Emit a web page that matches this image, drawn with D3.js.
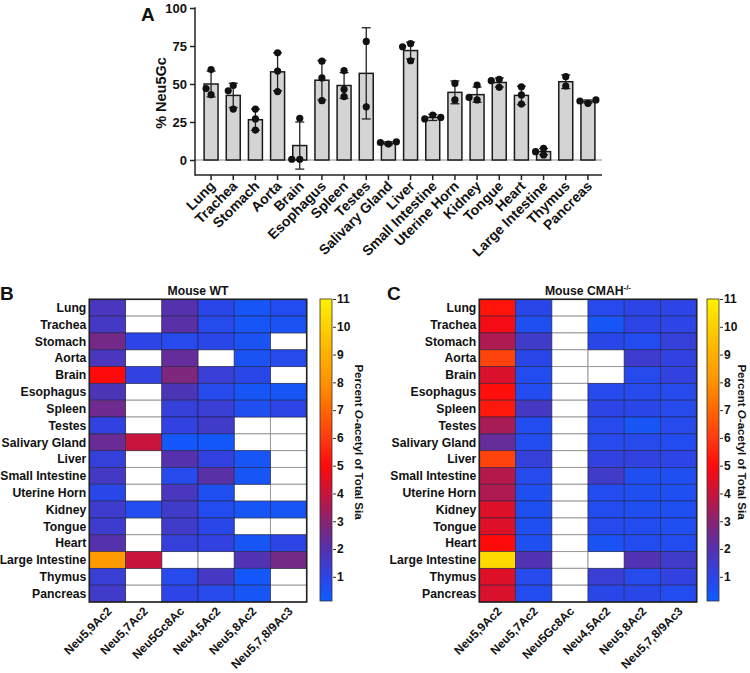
<!DOCTYPE html>
<html><head><meta charset="utf-8">
<script src="https://cdn.jsdelivr.net/npm/d3@7"></script>
<style>body{margin:0;background:#fff}svg{display:block}text{font-family:"Liberation Sans",Arial,Helvetica,sans-serif;font-weight:bold;fill:#111}</style>
</head><body>
<svg id="c" width="750" height="673"></svg>
<script>
// ---------------- DATA ----------------
const tissues = ["Lung","Trachea","Stomach","Aorta","Brain","Esophagus","Spleen","Testes","Salivary Gland","Liver","Small Intestine","Uterine Horn","Kidney","Tongue","Heart","Large Intestine","Thymus","Pancreas"];
const gcMean = [50, 42.5, 26.5, 58, 9.5, 52.5, 49, 57, 11, 72, 28, 44.5, 43, 51, 42.5, 5.5, 51.5, 38.5];
const gcSD   = [8.5, 8, 7, 12.5, 15.5, 13, 8.5, 30, 1, 5.5, 2, 7.5, 5, 3, 6, 2, 4.5, 1];
const gcPoints = [
  [59.5, 43, 47],
  [49, 45.5, 33.5],
  [33.5, 27, 19.7],
  [70.5, 58.5, 45],
  [27.4, 0.5, 0.5],
  [65, 54, 39],
  [58.8, 46.5, 41.7],
  [78, 35],
  [10.5, 11.5, 12],
  [76.5, 74.5, 65.3],
  [29.6, 27, 28],
  [50.4, 39.5],
  [49.3, 39.5, 41.2],
  [53.1, 52.2, 47.8],
  [48.2, 42.8, 36.8],
  [7.7, 5.5, 3.3],
  [54.8, 48.7],
  [37.3, 38.8, 39.5]
];
const yTicksA = [0, 25, 50, 75, 100];

const acetylTypes = ["Neu5,9Ac2","Neu5,7Ac2","Neu5Gc8Ac","Neu4,5Ac2","Neu5,8Ac2","Neu5,7,8/9Ac3"];
// null = not detected (white cell)
const wtValues = [
  [1.7, null, 2.0, 0.9, 0.4, 0.7],
  [1.6, null, 2.1, 0.8, 0.4, 0.5],
  [2.6, 1.0, 0.8, 0.9, 0.5, null],
  [1.7, null, 2.3, null, 0.5, 0.8],
  [5.0, 1.1, 2.8, 1.3, 0.9, null],
  [1.8, null, 1.8, 0.8, 0.4, 0.4],
  [2.5, null, 1.2, 1.3, 0.6, 1.0],
  [1.1, null, 1.1, 1.5, null, null],
  [2.4, 4.0, 0.3, 0.3, null, null],
  [1.2, null, 2.0, 1.1, 0.4, null],
  [1.6, null, 0.8, 2.1, 0.4, null],
  [0.9, null, 1.7, 0.6, null, null],
  [1.4, 0.7, 1.5, 0.7, 0.4, 0.4],
  [1.4, null, 1.5, 0.9, null, null],
  [2.0, null, 1.2, 1.1, 0.4, 1.0],
  [8.3, 4.0, null, null, 1.9, 2.6],
  [1.3, null, 0.8, 1.6, 0.3, null],
  [1.5, null, 1.0, 0.8, 0.4, null]
];
const cmahValues = [
  [5.2, 0.9, null, 0.8, 1.0, 1.0],
  [4.8, 0.6, null, 0.4, 1.0, 1.0],
  [3.6, 1.5, null, 0.9, 0.7, 1.2],
  [6.2, 0.9, null, null, 1.4, 1.1],
  [4.3, 0.7, null, null, 0.8, 1.1],
  [5.1, 0.7, null, 0.8, 0.8, 0.8],
  [5.3, 1.6, null, 1.0, 0.9, 0.8],
  [3.5, 0.7, null, 0.8, 0.4, 0.8],
  [2.3, 0.7, null, 0.8, 0.8, 0.7],
  [6.2, 1.2, null, 1.1, 1.1, 1.0],
  [3.7, 0.8, null, 1.5, 0.6, 0.6],
  [3.6, 0.6, null, 0.7, 0.6, 0.6],
  [4.4, 0.6, null, 0.7, 0.6, 0.6],
  [4.4, 0.6, null, 0.8, 0.7, 0.6],
  [5.0, 0.6, null, 0.5, 0.7, 0.7],
  [10.3, 1.9, null, null, 1.9, 1.5],
  [4.4, 0.8, null, 1.3, 0.8, 1.1],
  [4.3, 0.7, null, 0.9, 0.9, 0.7]
];
const cbarTicks = [1,2,3,4,5,6,7,8,9,10,11];
const cmapStops  = [0.13, 1, 2, 3, 4, 5, 6, 7, 8, 9, 10, 11];
const cmapColors = ["#0e5cff","#2d44e6","#5531ad","#882470","#c8143c","#ff0a0a","#ff3a10","#ff6600","#ff9200","#ffb000","#ffd000","#fff200"];

// ---------------- DRAW ----------------
const svg = d3.select("#c");

// ===== Panel A =====
const gA = svg.append("g");
const xA = d3.scaleBand().domain(tissues).range([200, 599]).paddingInner(0.37).paddingOuter(0.185);
const yA = d3.scaleLinear().domain([0, 100]).range([160, 8]);

gA.append("line").attr("x1", 195).attr("x2", 602).attr("y1", yA(0)).attr("y2", yA(0))
  .attr("stroke", "#8a8a8a").attr("stroke-width", 1.2);

gA.selectAll("rect.bar").data(tissues).join("rect").attr("class","bar")
  .attr("x", d => xA(d)).attr("width", xA.bandwidth())
  .attr("y", (d,i) => yA(gcMean[i])).attr("height", (d,i) => yA(0) - yA(gcMean[i]))
  .attr("fill", "#d4d4d4").attr("stroke", "#1a1a1a").attr("stroke-width", 1.5);

const eb = gA.selectAll("g.eb").data(tissues).join("g").attr("class","eb");
eb.append("line").attr("x1", d => xA(d)+xA.bandwidth()/2).attr("x2", d => xA(d)+xA.bandwidth()/2)
  .attr("y1", (d,i) => yA(gcMean[i]+gcSD[i])).attr("y2", (d,i) => yA(gcMean[i]-gcSD[i]))
  .attr("stroke", "#222").attr("stroke-width", 1.3);
[1,-1].forEach(s => {
  eb.append("line").attr("x1", d => xA(d)+xA.bandwidth()/2-4.5).attr("x2", d => xA(d)+xA.bandwidth()/2+4.5)
    .attr("y1", (d,i) => yA(gcMean[i]+s*gcSD[i])).attr("y2", (d,i) => yA(gcMean[i]+s*gcSD[i]))
    .attr("stroke", "#222").attr("stroke-width", 1.3);
});

tissues.forEach((t, i) => {
  const cx = xA(t) + xA.bandwidth()/2;
  const placed = [];
  gcPoints[i].forEach(v => {
    const py = yA(v);
    let px = cx;
    for (const off of [0, -5, 5, -8, 8]) {
      const ok = placed.every(p => Math.hypot(p[0]-(cx+off), p[1]-py) >= 6.5);
      if (ok) { px = cx + off; break; }
    }
    placed.push([px, py]);
    gA.append("circle").attr("cx", px).attr("cy", py).attr("r", 3.6).attr("fill", "#111");
  });
});

const yAxisA = d3.axisLeft(yA).tickValues(yTicksA).tickSize(5).tickPadding(3);
const gyA = gA.append("g").attr("transform", "translate(195,0)").call(yAxisA);
gyA.select(".domain").remove();
gyA.selectAll(".tick line").attr("stroke", "#222").attr("stroke-width", 1.5);
gyA.selectAll(".tick text").style("font-size", "13px").attr("fill", "#111");
gA.append("line").attr("x1", 195).attr("x2", 195).attr("y1", yA(100)-0.75).attr("y2", 175.75)
  .attr("stroke", "#222").attr("stroke-width", 1.5);

const xAxisA = d3.axisBottom(xA).tickSize(5).tickSizeOuter(0);
const gxA = gA.append("g").attr("transform", "translate(0,175)").call(xAxisA);
gxA.select(".domain").remove();
gxA.selectAll(".tick line").attr("stroke", "#222").attr("stroke-width", 1.5);
gxA.selectAll(".tick text").style("font-size", "14px").attr("fill", "#111")
  .attr("text-anchor", "end").attr("dy", null).attr("y", 0)
  .attr("transform", "translate(5,12) rotate(-45)");
gA.append("line").attr("x1", 195).attr("x2", 602).attr("y1", 175).attr("y2", 175)
  .attr("stroke", "#222").attr("stroke-width", 1.5);

gA.append("text").attr("transform", "translate(166,93) rotate(-90)").attr("text-anchor", "middle")
  .style("font-size", "14.5px").text("% Neu5Gc");
gA.append("text").attr("x", 141).attr("y", 21).style("font-size", "19px").text("A");

// ===== Heatmaps =====
const color = d3.scaleLinear().domain(cmapStops).range(cmapColors).interpolate(d3.interpolateRgb).clamp(true);
const defs = svg.append("defs");
const grad = defs.append("linearGradient").attr("id", "cbgrad").attr("x1", 0).attr("x2", 0).attr("y1", 1).attr("y2", 0);
const cMin = cmapStops[0], cMax = cmapStops[cmapStops.length-1];
d3.range(0, 1.0001, 0.02).forEach(f => {
  grad.append("stop").attr("offset", f).attr("stop-color", color(cMin + f*(cMax-cMin)));
});

function heatmap(opts) {
  const g = svg.append("g");
  const x = d3.scaleBand().domain(acetylTypes).range([opts.x0, opts.x1]);
  const y = d3.scaleBand().domain(tissues).range([299.3, 602]);
  const cells = [];
  opts.values.forEach((row, r) => row.forEach((v, c) => cells.push({r, c, v})));
  g.selectAll("rect.w").data(cells.filter(d => d.v === null)).join("rect").attr("class","w")
    .attr("x", d => x(acetylTypes[d.c])).attr("y", d => y(tissues[d.r]))
    .attr("width", x.bandwidth()).attr("height", y.bandwidth())
    .attr("fill", "#fff").attr("stroke", "#9a9a9a").attr("stroke-width", 1);
  g.selectAll("rect.v").data(cells.filter(d => d.v !== null)).join("rect").attr("class","v")
    .attr("x", d => x(acetylTypes[d.c])).attr("y", d => y(tissues[d.r]))
    .attr("width", x.bandwidth()).attr("height", y.bandwidth())
    .attr("fill", d => color(d.v)).attr("stroke", "#1b1b3a").attr("stroke-opacity", 0.65).attr("stroke-width", 0.8);
  g.append("rect").attr("x", opts.x0).attr("y", 299.3).attr("width", opts.x1-opts.x0).attr("height", 602-299.3)
    .attr("fill", "none").attr("stroke", "#222").attr("stroke-width", 1.6);
  g.selectAll("text.row").data(tissues).join("text").attr("class","row")
    .attr("x", opts.x0 - 3).attr("y", d => y(d) + y.bandwidth()/2).attr("dy", "0.35em")
    .attr("text-anchor", "end").style("font-size", "12.2px").text(d => d);
  g.selectAll("text.col").data(acetylTypes).join("text").attr("class","col")
    .attr("transform", d => `translate(${x(d)+x.bandwidth()/2+5},${612}) rotate(-45)`)
    .attr("text-anchor", "end").style("font-size", "12px").text(d => d);
  const tt = g.append("text").attr("x", (opts.x0+opts.x1)/2).attr("y", 295).attr("text-anchor", "middle").style("font-size", "12.2px");
  tt.append("tspan").text(opts.title);
  if (opts.sup) tt.append("tspan").style("font-size", "8px").attr("dy", -5).text(opts.sup);
  g.append("text").attr("x", opts.letterX).attr("y", 300).style("font-size", "19px").text(opts.letter);
  const cb = d3.scaleLinear().domain([cMin, cMax]).range([601, 299]);
  g.append("rect").attr("x", opts.cbX).attr("y", 299).attr("width", 12).attr("height", 302)
    .attr("fill", "url(#cbgrad)").attr("stroke", "#333").attr("stroke-width", 0.8);
  const cAxis = d3.axisRight(cb).tickValues(cbarTicks).tickSize(3).tickPadding(1).tickFormat(d3.format("d"));
  const ga = g.append("g").attr("transform", `translate(${opts.cbX+13},0)`).call(cAxis);
  ga.select(".domain").remove();
  ga.selectAll(".tick line").attr("stroke", "#333").attr("stroke-width", 1);
  ga.selectAll(".tick text").style("font-size", "12px").attr("fill", "#111");
  const ct = g.append("text").attr("transform", `translate(${opts.cbX+opts.titleOff},442) rotate(90)`).attr("text-anchor", "middle").style("font-size", "11.5px");
  ct.append("tspan").text("Percent ");
  ct.append("tspan").attr("font-style", "italic").text("O");
  ct.append("tspan").text("-acetyl of Total Sia");
}

heatmap({values: wtValues, x0: 89.3, x1: 306.7, title: "Mouse WT", letter: "B", letterX: 0, cbX: 320, titleOff: 35});
heatmap({values: cmahValues, x0: 479.3, x1: 696.7, title: "Mouse CMAH", sup: "-/-", letter: "C", letterX: 387, cbX: 707, titleOff: 31});
</script>
</body></html>
